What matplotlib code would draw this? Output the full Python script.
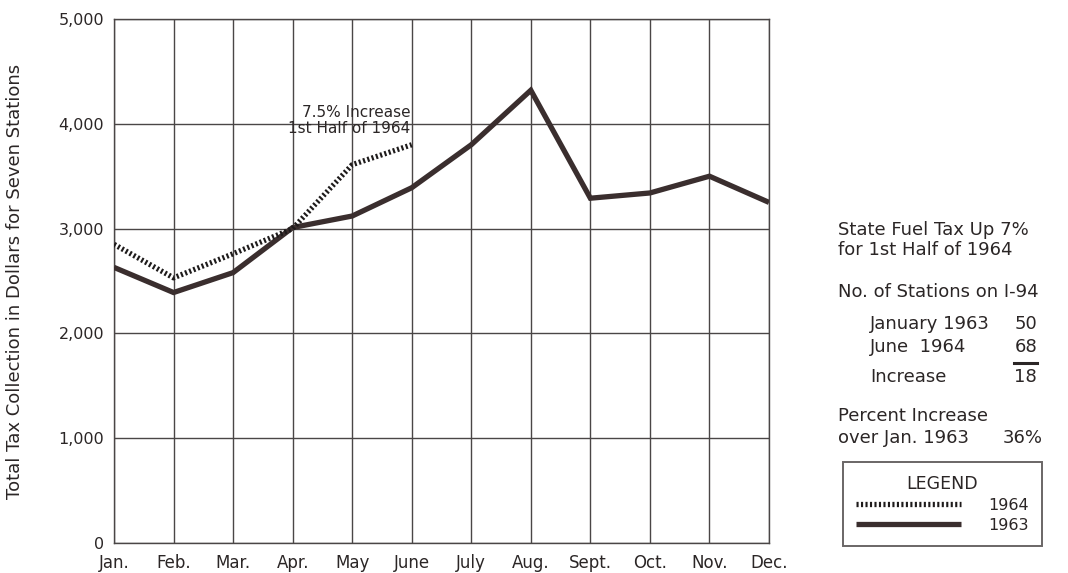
import matplotlib.pyplot as plt
from matplotlib.lines import Line2D

plt.rcParams['font.family'] = ['DejaVu Sans']

months = ['Jan.', 'Feb.', 'Mar.', 'Apr.', 'May', 'June', 'July',
          'Aug.', 'Sept.', 'Oct.', 'Nov.', 'Dec.']
tax_1963 = [2630, 2390, 2580, 3010, 3120, 3390, 3800, 4320, 3290, 3340, 3500, 3250]
tax_1964 = [2850, 2530, 2760, 3000, 3610, 3800]
yticks = [0, 1000, 2000, 3000, 4000, 5000]

text_col = '#2b2626'
grid_col = '#4a4646'

fig = plt.figure(figsize=(10.68, 5.73), dpi=100)
ax = fig.add_axes([114 / 1068, 30 / 573, 655 / 1068, 524 / 573])

x = list(range(len(months)))
ax.plot(x, tax_1963, color='#3a2e2e', lw=3.8, solid_capstyle='butt',
        solid_joinstyle='miter', zorder=3, label='1963')
ax.plot(x[:len(tax_1964)], tax_1964, color='#1e1b1b', lw=3.8,
        linestyle=(0, (0.4, 0.45)), dash_capstyle='butt', zorder=4, label='1964')

ax.set_xlim(0, len(months) - 1)
ax.set_ylim(0, 5000)
ax.set_xticks(x)
ax.set_xticklabels(months)
ax.set_yticks(yticks)
ax.set_yticklabels(['{:,}'.format(v) for v in yticks])
ax.tick_params(length=0, colors=text_col)
ax.tick_params(axis='y', pad=7, labelsize=11.5)
ax.tick_params(axis='x', pad=8, labelsize=12)
ax.grid(True, color=grid_col, lw=1.0)
for s in ax.spines.values():
    s.set_color(grid_col)
    s.set_linewidth(1.0)
ax.set_ylabel('Total Tax Collection in Dollars for Seven Stations',
              fontsize=13, color=text_col)
ax.yaxis.set_label_coords(-0.138, 0.5)

ax.annotate('7.5% Increase\n1st Half of 1964', xy=(5, 4030), xytext=(-1, 0),
            textcoords='offset points', ha='right', va='center',
            fontsize=11, color=text_col, linespacing=1.1, zorder=5)

# side notes
def note(px, py, s, ha='left', size=13):
    fig.text(px / 1068, 1 - py / 573, s, ha=ha, va='center',
             fontsize=size, color=text_col)

note(838, 230, 'State Fuel Tax Up 7%')
note(838, 250, 'for 1st Half of 1964')
note(838, 292, 'No. of Stations on I-94')
note(870, 324, 'January 1963')
note(1037, 324, '50', ha='right')
note(870, 347, 'June  1964')
note(1037, 347, '68', ha='right')
fig.add_artist(Line2D([1014 / 1068, 1037 / 1068], [1 - 363 / 573, 1 - 363 / 573],
                      color=text_col, lw=2.2))
note(870, 377, 'Increase')
note(1037, 377, '18', ha='right')
note(838, 416, 'Percent Increase')
note(838, 438, 'over Jan. 1963')
note(1043, 438, '36%', ha='right')

handles, labels = ax.get_legend_handles_labels()
leg = fig.legend(handles[::-1], labels[::-1], title='LEGEND',
                 loc='upper left', bbox_to_anchor=(843 / 1068, 1 - 462 / 573),
                 borderaxespad=0, fontsize=11.5, title_fontsize=12.5,
                 handlelength=6.6, handletextpad=1.7, borderpad=0.8,
                 labelspacing=0.32, fancybox=False, framealpha=1,
                 edgecolor='#6a6666')
leg.get_frame().set_linewidth(1.4)
for t in leg.get_texts():
    t.set_color(text_col)
leg.get_title().set_color(text_col)

fig.savefig('out.png', dpi=100, facecolor='white')
